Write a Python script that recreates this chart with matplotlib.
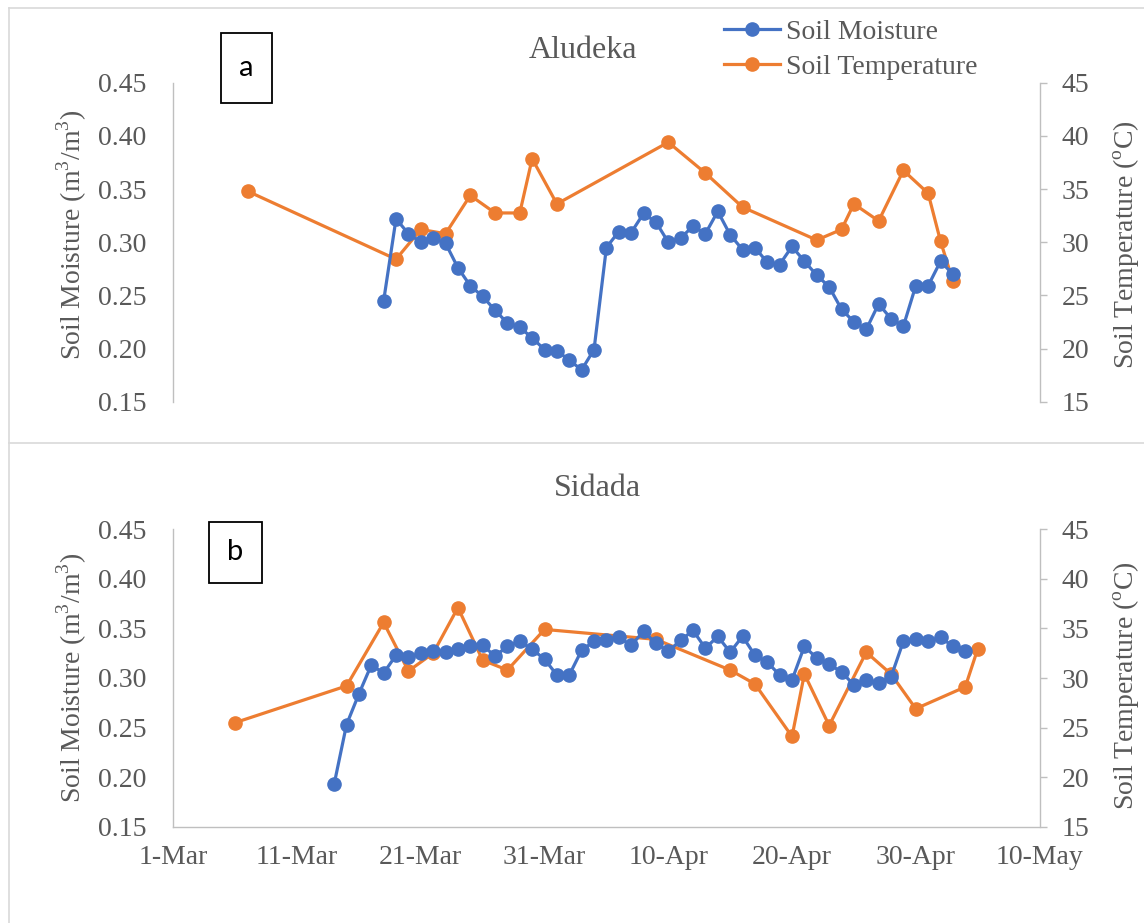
import numpy as np
import pandas as pd
import matplotlib
matplotlib.use("Agg")
import matplotlib.pyplot as plt
import matplotlib.dates as mdates
from matplotlib.lines import Line2D
from matplotlib.patches import Rectangle

plt.rcParams["font.family"] = ["Liberation Serif", "DejaVu Serif"]
plt.rcParams["mathtext.fontset"] = "custom"
plt.rcParams["mathtext.rm"] = "Liberation Serif"

# ---- data: Aludeka (a) ----
alu_sm_start = "2021-03-18"  # daily readings
alu_sm = [0.245, 0.322, 0.308, 0.300, 0.304, 0.299, 0.276, 0.259, 0.249, 0.236,
          0.224, 0.220, 0.210, 0.199, 0.198, 0.189, 0.180, 0.199, 0.295, 0.310,
          0.309, 0.327, 0.319, 0.300, 0.304, 0.315, 0.308, 0.329, 0.307, 0.293,
          0.295, 0.281, 0.279, 0.296, 0.282, 0.269, 0.258, 0.237, 0.225, 0.218,
          0.242, 0.228, 0.221, 0.259, 0.259, 0.282, 0.270]
alu_st_dates = ["2021-03-07", "2021-03-19", "2021-03-21", "2021-03-23", "2021-03-25",
                "2021-03-27", "2021-03-29", "2021-03-30", "2021-04-01", "2021-04-10",
                "2021-04-13", "2021-04-16", "2021-04-22", "2021-04-24", "2021-04-25",
                "2021-04-27", "2021-04-29", "2021-05-01", "2021-05-02", "2021-05-03"]
alu_st = [34.8, 28.4, 31.2, 30.8, 34.4, 32.75, 32.75, 37.85, 33.6, 39.4,
          36.5, 33.3, 30.2, 31.2, 33.6, 32.0, 36.75, 34.6, 30.1, 26.35]

# ---- data: Sidada (b) ----
sid_sm_start = "2021-03-14"  # daily readings
sid_sm = [0.193, 0.253, 0.284, 0.313, 0.305, 0.323, 0.321, 0.325, 0.327, 0.326,
          0.329, 0.332, 0.333, 0.322, 0.332, 0.337, 0.329, 0.319, 0.303, 0.303,
          0.328, 0.337, 0.338, 0.341, 0.333, 0.347, 0.335, 0.327, 0.338, 0.348,
          0.330, 0.342, 0.326, 0.342, 0.323, 0.316, 0.303, 0.298, 0.332, 0.320,
          0.314, 0.306, 0.293, 0.298, 0.295, 0.301, 0.337, 0.339, 0.337, 0.341,
          0.332, 0.327]
sid_st_dates = ["2021-03-06", "2021-03-15", "2021-03-18", "2021-03-20", "2021-03-22",
                "2021-03-24", "2021-03-26", "2021-03-28", "2021-03-31", "2021-04-09",
                "2021-04-15", "2021-04-17", "2021-04-20", "2021-04-21", "2021-04-23",
                "2021-04-26", "2021-04-28", "2021-04-30", "2021-05-04", "2021-05-05"]
sid_st = [25.5, 29.2, 35.6, 30.7, 32.5, 37.1, 31.8, 30.8, 34.9, 33.9,
          30.8, 29.4, 24.1, 30.4, 25.2, 32.6, 30.4, 26.9, 29.1, 32.9]

x_start, x_end = "2021-03-01", "2021-05-10"
sm_ticks = [0.15, 0.20, 0.25, 0.30, 0.35, 0.40, 0.45]
st_ticks = [15, 20, 25, 30, 35, 40, 45]

BLUE = "#4472C4"
ORANGE = "#ED7D31"
AXC = "#BFBFBF"
TXT = "#595959"

W, H = 1144, 923
fig = plt.figure(figsize=(W / 100, H / 100), dpi=100)


def px_axes(l, t, r, b):
    return fig.add_axes([l / W, 1 - b / H, (r - l) / W, (b - t) / H])


def panel(ax, sm_start, sm, st_dates, st, show_x):
    axr = ax.twinx()
    d_sm = pd.date_range(sm_start, periods=len(sm), freq="D")
    d_st = pd.to_datetime(st_dates)
    ax.plot(d_sm, sm, color=BLUE, lw=2.3, marker="o", ms=9.5, label="Soil Moisture")
    axr.plot(d_st, st, color=ORANGE, lw=2.3, marker="o", ms=9.5, label="Soil Temperature")
    ax.set_zorder(axr.get_zorder() + 1)
    ax.patch.set_visible(False)

    ax.set_xlim(pd.Timestamp(x_start), pd.Timestamp(x_end))
    ax.set_ylim(0.15, 0.45)
    axr.set_ylim(15, 45)
    ax.set_yticks(sm_ticks)
    ax.set_yticklabels([f"{v:.2f}" for v in sm_ticks])
    axr.set_yticks(st_ticks)

    for a in (ax, axr):
        for s in a.spines.values():
            s.set_visible(False)
            s.set_color(AXC)
            s.set_linewidth(1.0)
    ax.spines["left"].set_visible(True)
    axr.spines["right"].set_visible(True)

    ax.tick_params(axis="y", length=0, pad=19.5, labelsize=20, labelcolor=TXT)
    axr.tick_params(axis="y", length=5, width=1.0, color=AXC, pad=11,
                    labelsize=20, labelcolor=TXT)
    if show_x:
        ax.spines["bottom"].set_visible(True)
        ax.set_xticks(pd.date_range(x_start, x_end, freq="10D"))
        ax.xaxis.set_major_formatter(mdates.DateFormatter("%-d-%b"))
        ax.tick_params(axis="x", length=0, pad=13, labelsize=20, labelcolor=TXT)
    else:
        ax.set_xticks([])
    return axr


ax1 = px_axes(173.3, 82.7, 1039.5, 401.7)
ax1r = panel(ax1, alu_sm_start, alu_sm, alu_st_dates, alu_st, False)
ax2 = px_axes(173.3, 529.3, 1039.5, 826.7)
ax2r = panel(ax2, sid_sm_start, sid_sm, sid_st_dates, sid_st, True)

# titles
fig.text(583 / W, 1 - 50 / H, "Aludeka", ha="center", va="center", fontsize=23, color=TXT)
fig.text(597 / W, 1 - 488 / H, "Sidada", ha="center", va="center", fontsize=23, color=TXT)

# axis labels
for yc in (235, 678):
    fig.text(71.7 / W, 1 - yc / H, "Soil Moisture (m$^{3}$/m$^{3}$)", rotation=90,
             ha="center", va="center", fontsize=20, color=TXT)
for yc in (245, 686):
    fig.text(1126.7 / W, 1 - yc / H, "Soil Temperature ($^{\\rm o}$C)", rotation=90,
             ha="center", va="center", fontsize=20, color=TXT)

# legend
handles = [Line2D([], [], color=BLUE, lw=2.3, marker="o", ms=9.5),
           Line2D([], [], color=ORANGE, lw=2.3, marker="o", ms=9.5)]
leg = fig.legend(handles, ["Soil Moisture", "Soil Temperature"], loc="upper left",
                 bbox_to_anchor=(705 / W, 1 - 0 / H), frameon=False, fontsize=20,
                 handlelength=2.0, handletextpad=0.2, labelspacing=0.33, borderpad=0.2)
for t in leg.get_texts():
    t.set_color(TXT)

# panel letters
for (l, t, r, b), letter in (((221, 33, 272, 103), "a"), ((209, 522, 262, 583), "b")):
    fig.patches.append(Rectangle((l / W, 1 - b / H), (r - l) / W, (b - t) / H,
                                 transform=fig.transFigure, fill=False,
                                 edgecolor="black", lw=1.3))
    fig.text((l + r) / 2 / W, 1 - (t + b) / 2 / H, letter, ha="center", va="center",
             fontsize=21, family=["Lato", "DejaVu Sans"], color="black")

# chart frames
FR = "#D9D9D9"
fig.add_artist(Line2D([9 / W, 1], [1 - 8 / H, 1 - 8 / H], color=FR, lw=1.2, transform=fig.transFigure))
fig.add_artist(Line2D([9 / W, 9 / W], [0, 1 - 8 / H], color=FR, lw=1.2, transform=fig.transFigure))
fig.add_artist(Line2D([9 / W, 1], [1 - 443 / H, 1 - 443 / H], color=FR, lw=1.2, transform=fig.transFigure))

fig.savefig("out.png", dpi=100)
